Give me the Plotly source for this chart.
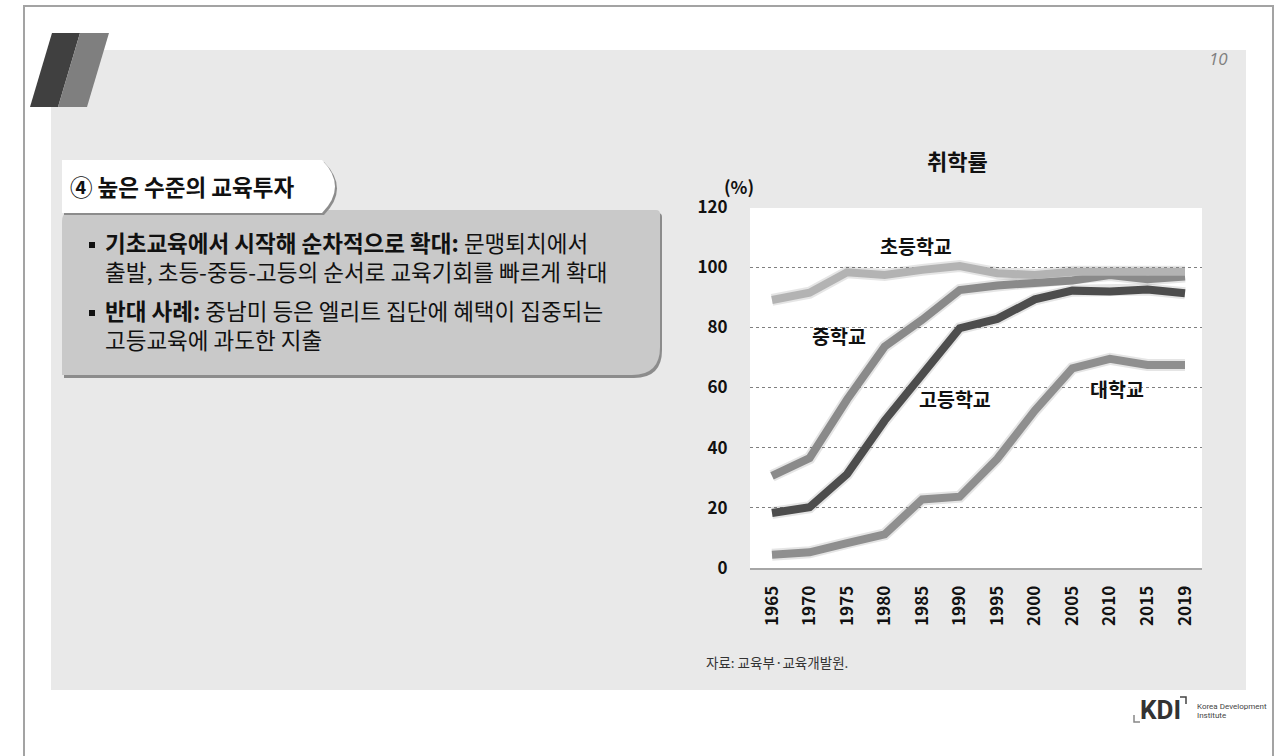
import plotly.graph_objects as go

W, H = 1284, 756

# ---------------- data ----------------
years = ["1965", "1970", "1975", "1980", "1985", "1990", "1995", "2000", "2005", "2010", "2015", "2019"]
elementary = [89.1, 91.5, 98.3, 97.4, 99.1, 100.4, 98.0, 97.4, 98.5, 98.7, 98.5, 98.5]
middle = [30.6, 36.5, 56.0, 73.6, 82.5, 92.4, 93.9, 95.0, 95.6, 97.4, 96.0, 96.9]
high = [18.3, 20.2, 31.2, 49.0, 64.3, 79.7, 82.8, 89.3, 92.2, 91.9, 92.6, 91.3]
univ = [4.4, 5.2, 8.3, 11.2, 22.8, 23.7, 36.3, 52.3, 66.4, 69.5, 67.5, 67.5]

series_names = ["초등학교", "중학교", "고등학교", "대학교"]
y_ticks = [0, 20, 40, 60, 80, 100, 120]

KR = "Noto Sans CJK KR"


def px(x):
    return x / W


def py(y):
    return 1 - y / H


def P(x, y):
    return f"{px(x):.6f},{py(y):.6f}"


fig = go.Figure()

colors = {"초등학교": "#b3b3b3", "중학교": "#8a8a8a", "고등학교": "#4d4d4d", "대학교": "#8f8f8f"}
values = {"초등학교": elementary, "중학교": middle, "고등학교": high, "대학교": univ}

# soft shadows under the lines
for name in series_names:
    fig.add_trace(go.Scatter(x=years, y=values[name], mode="lines",
                             line=dict(color="rgba(0,0,0,0.10)", width=12),
                             hoverinfo="skip", showlegend=False))
for name in ["대학교", "고등학교", "중학교", "초등학교"]:
    fig.add_trace(go.Scatter(x=years, y=values[name], mode="lines", name=name,
                             line=dict(color=colors[name], width=8), showlegend=False))

shapes = []
# slide frame
shapes.append(dict(type="rect", xref="paper", yref="paper", x0=px(24), x1=px(1273), y0=py(6), y1=py(770),
                   line=dict(color="#a3a3a3", width=2), fillcolor="white", layer="below"))
# gray content area
shapes.append(dict(type="rect", xref="paper", yref="paper", x0=px(51), x1=px(1246), y0=py(50), y1=py(690),
                   line=dict(width=0), fillcolor="#e9e9e9", layer="below"))
# white plot area
shapes.append(dict(type="rect", xref="paper", yref="paper", x0=px(750), x1=px(1202), y0=py(208), y1=py(568),
                   line=dict(width=0), fillcolor="white", layer="below"))

# header parallelograms
shapes.append(dict(type="path", xref="paper", yref="paper",
                   path=f"M{P(52,33)} L{P(80,33)} L{P(58,107)} L{P(30,107)} Z",
                   fillcolor="#404040", line=dict(width=0), layer="below"))
shapes.append(dict(type="path", xref="paper", yref="paper",
                   path=f"M{P(80,33)} L{P(109,33)} L{P(87,107)} L{P(58,107)} Z",
                   fillcolor="#7f7f7f", line=dict(width=0), layer="below"))


def box_path(dx, dy):
    x0, x1, y0, y1 = 62 + dx, 660 + dx, 210 + dy, 375 + dy
    r = 28
    r2 = 12
    return (f"M{P(x0, y0 + r2)} Q{P(x0, y0)} {P(x0 + r2, y0)} L{P(x1 - 4, y0)} Q{P(x1, y0)} {P(x1, y0 + 4)} "
            f"L{P(x1, y1 - r)} Q{P(x1, y1)} {P(x1 - r, y1)} L{P(x0, y1)} Z")


shapes.append(dict(type="path", xref="paper", yref="paper", path=box_path(2, 3),
                   fillcolor="#8c8c8c", line=dict(width=0), layer="below"))
shapes.append(dict(type="path", xref="paper", yref="paper", path=box_path(0, 0),
                   fillcolor="#c9c9c9", line=dict(width=0), layer="below"))


def tab_path(dx, dy):
    x0, y0, y1 = 62 + dx, 160 + dy, 213 + dy
    xr = 322 + dx
    return f"M{P(x0, y0)} L{P(xr, y0)} Q{P(xr + 26, (y0 + y1) / 2)} {P(xr, y1)} L{P(x0, y1)} Z"


shapes.append(dict(type="path", xref="paper", yref="paper", path=tab_path(2, 2),
                   fillcolor="#8c8c8c", line=dict(width=0), layer="below"))
shapes.append(dict(type="path", xref="paper", yref="paper", path=tab_path(0, 0),
                   fillcolor="white", line=dict(width=0), layer="below"))

# bullets
for yb in [245, 313]:
    shapes.append(dict(type="rect", xref="paper", yref="paper", x0=px(89), x1=px(95),
                       y0=py(yb + 3), y1=py(yb - 3), layer="below", fillcolor="#111", line=dict(width=0)))

# KDI brackets
shapes.append(dict(type="path", xref="paper", yref="paper",
                   path=f"M{P(1180,697)} L{P(1186,697)} L{P(1186,704)}",
                   line=dict(color="#444", width=1.5), layer="above"))
shapes.append(dict(type="path", xref="paper", yref="paper",
                   path=f"M{P(1134,715)} L{P(1134,722)} L{P(1140,722)}",
                   line=dict(color="#888", width=1.5), layer="above"))

ann = []


def A(x, y, text, size, color="#111", bold=False, xanchor="center", family=KR, italic=False, align="center"):
    ann.append(dict(xref="paper", yref="paper", x=px(x), y=py(y), text=text, showarrow=False,
                    xanchor=xanchor, yanchor="middle", align=align,
                    font=dict(family=family, size=size, color=color,
                              weight="bold" if bold else "normal",
                              style="italic" if italic else "normal")))


A(1218, 58, "10", 17, color="#7f7f7f", italic=True, family="Open Sans")
A(68, 186, "④ 높은 수준의 교육투자", 22.5, bold=True, xanchor="left")
A(103, 256.5, "<b>기초교육에서 시작해 순차적으로 확대:</b> 문맹퇴치에서<br>출발, 초등-중등-고등의 순서로 교육기회를 빠르게 확대",
  22.5, xanchor="left", align="left")
A(103, 324.5, "<b>반대 사례:</b> 중남미 등은 엘리트 집단에 혜택이 집중되는<br>고등교육에 과도한 지출",
  22.5, xanchor="left", align="left")

A(957, 160, "취학률", 22, bold=True)
A(739, 187, "(%)", 17.5, bold=True)
A(916, 245, "초등학교", 19.5, bold=True)
A(839, 335, "중학교", 19.5, bold=True)
A(955, 398, "고등학교", 19.5, bold=True)
A(1117, 388, "대학교", 19.5, bold=True)
A(704, 662, "자료: 교육부·교육개발원.", 13.5, color="#333", xanchor="left")

A(1160, 710, "KDI", 26, color="#333", bold=True, family="Roboto")
A(1195, 706, "Korea Development", 8, color="#444", xanchor="left", family="Roboto")
A(1195, 715, "Institute", 8, color="#444", xanchor="left", family="Roboto")

fig.update_layout(
    width=W, height=H, autosize=False,
    margin=dict(l=0, r=0, t=0, b=0, pad=0, autoexpand=False),
    paper_bgcolor="white", plot_bgcolor="rgba(0,0,0,0)",
    shapes=shapes, annotations=ann,
    xaxis=dict(domain=[px(750), px(1202)], type="category", range=[-0.586, 11.453],
               showgrid=False, showline=True, linecolor="#a6a6a6", linewidth=2, automargin=False,
               tickangle=-90, ticks="outside", ticklen=9, tickcolor="rgba(0,0,0,0)",
               tickfont=dict(family=KR, size=17, color="#111", weight="bold"), zeroline=False),
    yaxis=dict(domain=[py(568), py(207)], range=[0, 120], tickvals=y_ticks, automargin=False,
               showgrid=True, gridcolor="#808080", griddash="dot", gridwidth=1,
               zeroline=False, showline=False,
               ticks="outside", ticklen=18, tickcolor="rgba(0,0,0,0)",
               tickfont=dict(family=KR, size=17, color="#111", weight="bold")),
)

fig.write_html("out.html", config={"displayModeBar": False},
               post_script="document.body.style.margin='0';")
